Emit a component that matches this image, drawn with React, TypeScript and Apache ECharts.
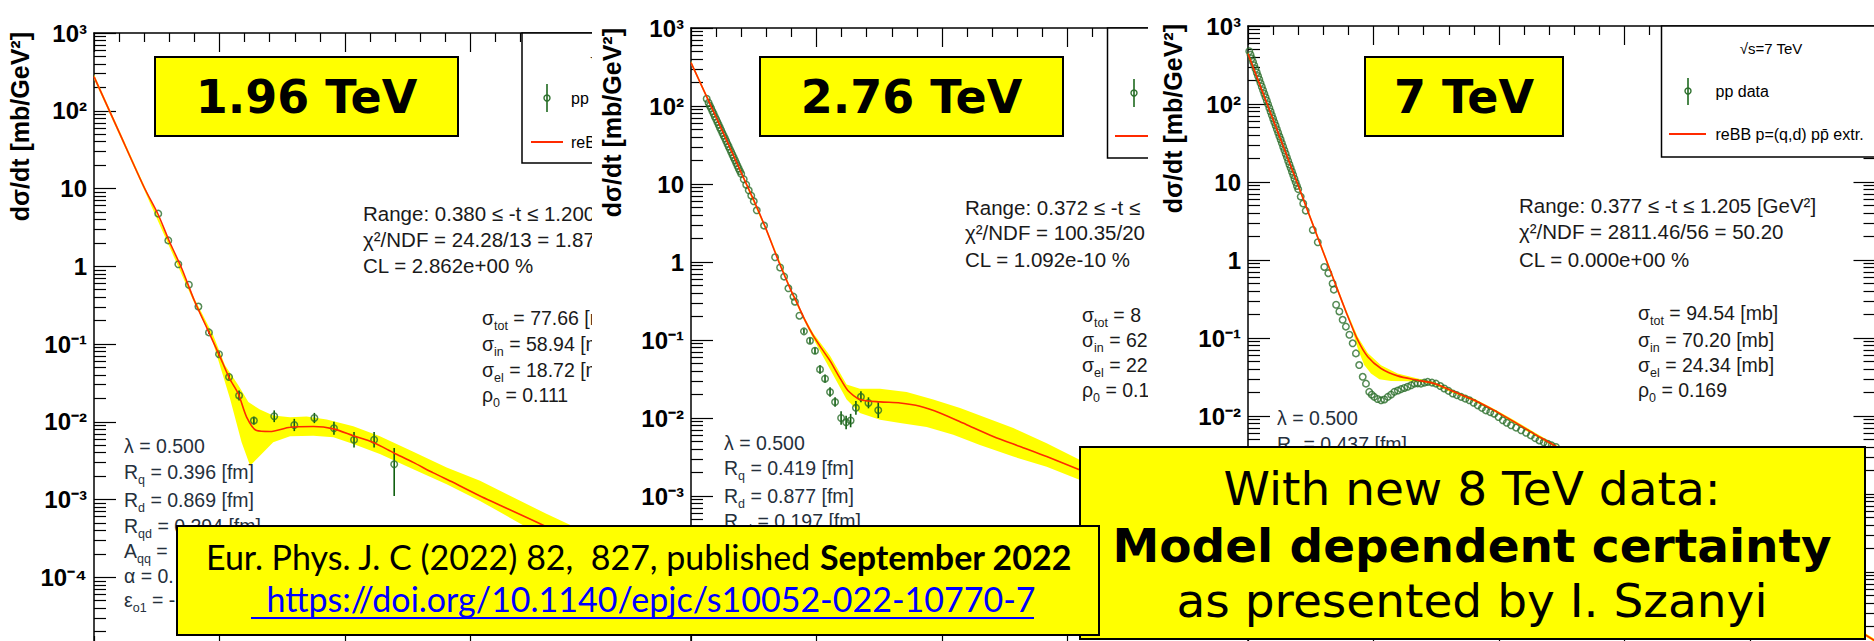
import React, { useEffect, useRef } from 'react';
import * as echarts from 'echarts';

// ---------------- fonts / colours ----------------
const FONT = "'Liberation Sans', Arial, Helvetica, sans-serif";
const BOXFONT = "'DejaVu Sans', Verdana, sans-serif";
const CAL = "Lato, 'Open Sans', sans-serif";
const TXT = '#1a1a1a';
const PAR = '#25303c';
const GREEN = '#2b6e2b';
const ERRGREEN = '#0f5f0f';
const RED = '#ff2a00';
const YEL = '#ffff00';

// ---------------- axes ----------------
const xMin = 0;
const xMax = 2.5;
const xStep = 0.5;
const yMin = 1e-5;
const yMax = 1e3;
const yTickExp = [-5, -4, -3, -2, -1, 0, 1, 2, 3];
const yTickLabels = ['10⁻⁵', '10⁻⁴', '10⁻³', '10⁻²', '10⁻¹', '1', '10', '10²', '10³'];

// ---------------- panel 1 : 1.96 TeV ----------------
const p1Points = [
  [0.256, 4.75], [0.296, 2.15], [0.336, 1.06], [0.378, 0.578], [0.416, 0.303], [0.458, 0.141],
  [0.498, 0.074], [0.538, 0.0377], [0.578, 0.0218], [0.637, 0.01035], [0.718, 0.01178],
  [0.798, 0.0091], [0.878, 0.0112], [0.956, 0.00824], [1.036, 0.00587], [1.116, 0.00587], [1.196, 0.00284],
];
const p1Errors = [
  [0.458, 0.134, 0.149], [0.498, 0.069, 0.079], [0.538, 0.035, 0.0405], [0.578, 0.0188, 0.0253],
  [0.637, 0.0092, 0.0116], [0.718, 0.00989, 0.014], [0.798, 0.00758, 0.0109], [0.878, 0.0096, 0.013],
  [0.956, 0.0068, 0.00999], [1.036, 0.00466, 0.00739], [1.116, 0.00466, 0.00739], [1.196, 0.00111, 0.00458],
];
const p1Curve = [
  [0, 275], [0.1, 53], [0.2, 10.3], [0.256, 4.6], [0.3, 2.1], [0.35, 0.93], [0.4, 0.36], [0.45, 0.16],
  [0.5, 0.071], [0.54, 0.036], [0.575, 0.0229], [0.608, 0.0115], [0.648, 0.0077], [0.701, 0.0075],
  [0.781, 0.0085], [0.874, 0.00867], [0.954, 0.0081], [1.033, 0.0066], [1.113, 0.0054], [1.193, 0.004],
  [1.272, 0.003], [1.352, 0.0022], [1.432, 0.00165], [1.538, 0.00111], [1.8, 0.00045], [2.0, 0.00021], [2.5, 0.00003],
];
const p1BandUp = [
  [0, 295], [0.2, 11.0], [0.4, 0.385], [0.475, 0.13], [0.522, 0.0533], [0.575, 0.0294], [0.615, 0.0179],
  [0.661, 0.01436], [0.714, 0.012], [0.781, 0.01143], [0.847, 0.01167], [0.927, 0.01067], [1.033, 0.00875],
  [1.139, 0.00649], [1.272, 0.00411], [1.405, 0.00258], [1.538, 0.00174], [1.8, 0.00066], [2.0, 0.00033], [2.5, 0.00005],
];
const p1BandLo = [
  [0, 255], [0.2, 9.6], [0.4, 0.335], [0.469, 0.118], [0.542, 0.0197], [0.588, 0.00543], [0.622, 0.00271],
  [0.661, 0.00365], [0.714, 0.00543], [0.781, 0.00649], [0.874, 0.00662], [0.954, 0.00631], [1.033, 0.00516],
  [1.139, 0.00384], [1.272, 0.00245], [1.405, 0.00157], [1.538, 0.00096], [1.8, 0.00032], [2.0, 0.00014], [2.5, 0.00002],
];

// ---------------- panel 2 : 2.76 TeV ----------------
const p2Points = [
  [0.0625, 124], [0.07, 110], [0.075, 101], [0.08, 93.5], [0.085, 86], [0.09, 79.6], [0.095, 73], [0.1, 67.7],
  [0.105, 62.5], [0.11, 57.6], [0.115, 53], [0.12, 49], [0.125, 45], [0.13, 41.7], [0.135, 38.5], [0.14, 35.5],
  [0.145, 32.7], [0.15, 30.2], [0.155, 27.8], [0.16, 25.7], [0.165, 23.7], [0.17, 21.9], [0.175, 20.2], [0.18, 18.6],
  [0.185, 17.1], [0.19, 15.8], [0.195, 14.6], [0.2, 13.5], [0.21, 11.5], [0.22, 9.8], [0.23, 8.3], [0.24, 7.1],
  [0.25, 6.0], [0.262, 4.6], [0.291, 2.93], [0.335, 1.15], [0.355, 0.85], [0.371, 0.65], [0.388, 0.46],
  [0.408, 0.36], [0.414, 0.31], [0.432, 0.205], [0.45, 0.129], [0.474, 0.098], [0.494, 0.0728], [0.514, 0.042],
  [0.534, 0.0319], [0.554, 0.0215], [0.574, 0.016], [0.598, 0.01], [0.618, 0.0088], [0.636, 0.0093],
  [0.657, 0.0135], [0.677, 0.0187], [0.707, 0.0156], [0.746, 0.0126],
];
const p2Errors = [
  [0.45, 0.12, 0.139], [0.474, 0.09, 0.107], [0.494, 0.066, 0.08], [0.514, 0.037, 0.0475], [0.534, 0.0283, 0.036],
  [0.554, 0.0187, 0.0247], [0.574, 0.0139, 0.0184], [0.598, 0.0082, 0.0122], [0.618, 0.0072, 0.0107],
  [0.636, 0.0076, 0.0113], [0.657, 0.011, 0.0165], [0.677, 0.0159, 0.022], [0.707, 0.0133, 0.0184], [0.746, 0.01, 0.0159],
];
const p2Curve = [
  [0, 360], [0.1, 72], [0.2, 14], [0.25, 6.2], [0.3, 2.6], [0.35, 1.0], [0.4, 0.42], [0.421, 0.306], [0.454, 0.18],
  [0.487, 0.1135], [0.52, 0.078], [0.554, 0.054], [0.59, 0.034], [0.625, 0.0225], [0.673, 0.0173], [0.753, 0.0161],
  [0.833, 0.0156], [0.912, 0.01416], [0.992, 0.0116], [1.098, 0.0082], [1.204, 0.0058], [1.311, 0.0043],
  [1.417, 0.0032], [1.55, 0.00215], [1.8, 0.001], [2.0, 0.00055], [2.5, 0.0001],
];
const p2BandUp = [
  [0, 380], [0.1, 76], [0.2, 14.8], [0.3, 2.75], [0.4, 0.445], [0.454, 0.19], [0.487, 0.122], [0.554, 0.0627],
  [0.62, 0.0269], [0.673, 0.0237], [0.753, 0.0237], [0.859, 0.0215], [0.965, 0.01726], [1.072, 0.01346],
  [1.178, 0.01], [1.284, 0.00743], [1.417, 0.00475], [1.55, 0.00289], [1.8, 0.00135], [2.0, 0.00075], [2.5, 0.00014],
];
const p2BandLo = [
  [0, 340], [0.1, 68], [0.2, 13.2], [0.3, 2.45], [0.4, 0.395], [0.454, 0.168], [0.487, 0.104], [0.554, 0.0421],
  [0.62, 0.01726], [0.673, 0.01161], [0.753, 0.0095], [0.833, 0.0086], [0.939, 0.00766], [1.045, 0.00608],
  [1.151, 0.00452], [1.284, 0.0032], [1.417, 0.00238], [1.55, 0.0016], [1.8, 0.00074], [2.0, 0.0004], [2.5, 0.00007],
];

// ---------------- panel 3 : 7 TeV ----------------
const p3Points = [
  [0.005, 475], [0.01, 428], [0.015, 385], [0.02, 347], [0.025, 313], [0.03, 282], [0.035, 254], [0.04, 228],
  [0.045, 206], [0.05, 185], [0.055, 167], [0.06, 150], [0.065, 135], [0.07, 122], [0.075, 110], [0.08, 99],
  [0.085, 89], [0.09, 80], [0.095, 72], [0.1, 65], [0.105, 58.5], [0.11, 53], [0.115, 47.5], [0.12, 43],
  [0.125, 38.5], [0.13, 35], [0.135, 31.5], [0.14, 28.3], [0.145, 25.5], [0.15, 23], [0.155, 20.7], [0.16, 18.6],
  [0.165, 16.8], [0.17, 15.1], [0.175, 13.6], [0.18, 12.3], [0.185, 11.0], [0.19, 9.9], [0.195, 8.9], [0.2, 8.1],
  [0.21, 6.5], [0.22, 5.3], [0.23, 4.3], [0.258, 2.43], [0.278, 1.69], [0.304, 0.815], [0.32, 0.678], [0.337, 0.5],
  [0.342, 0.417], [0.351, 0.267], [0.364, 0.219], [0.377, 0.171], [0.39, 0.14], [0.404, 0.11], [0.417, 0.0855],
  [0.43, 0.0635], [0.443, 0.045], [0.457, 0.0318], [0.47, 0.026], [0.483, 0.0204], [0.493, 0.0188], [0.503, 0.0176],
  [0.516, 0.0165], [0.53, 0.0159], [0.543, 0.0163], [0.557, 0.0176], [0.57, 0.0188], [0.583, 0.0204], [0.597, 0.0212],
  [0.61, 0.0221], [0.623, 0.0229], [0.636, 0.0237], [0.65, 0.0248], [0.663, 0.026], [0.676, 0.0262], [0.689, 0.026],
  [0.703, 0.0268], [0.716, 0.0274], [0.733, 0.0268], [0.749, 0.026], [0.766, 0.0242], [0.782, 0.0225], [0.799, 0.021],
  [0.816, 0.0194], [0.832, 0.0185], [0.849, 0.0176], [0.866, 0.0167], [0.882, 0.0159], [0.899, 0.0148], [0.915, 0.0137],
  [0.932, 0.0127], [0.948, 0.0118], [0.965, 0.0112], [0.981, 0.0107], [0.998, 0.0097], [1.015, 0.0088], [1.031, 0.0082],
  [1.048, 0.0076], [1.068, 0.0071], [1.088, 0.00655], [1.108, 0.0061], [1.127, 0.00564], [1.144, 0.0052],
  [1.161, 0.00486], [1.178, 0.0046], [1.194, 0.0044], [1.21, 0.0042], [1.227, 0.004],
];
const p3Errors: number[][] = [];
const p3Curve = [
  [0, 440], [0.1, 63], [0.2, 9.0], [0.3, 1.26], [0.344, 0.533], [0.39, 0.219], [0.437, 0.0944], [0.477, 0.0575],
  [0.53, 0.0407], [0.596, 0.0327], [0.676, 0.0288], [0.742, 0.0261], [0.822, 0.0204], [0.902, 0.0159],
  [0.981, 0.0118], [1.061, 0.0084], [1.141, 0.0059], [1.22, 0.0042], [1.5, 0.00117], [2.0, 0.000126], [2.5, 0.000013],
];
const p3BandUp = [
  [0, 470], [0.1, 67], [0.2, 9.6], [0.3, 1.35], [0.344, 0.57], [0.39, 0.235], [0.437, 0.104], [0.477, 0.064],
  [0.53, 0.0447], [0.596, 0.035], [0.676, 0.0302], [0.742, 0.0272], [0.822, 0.0213], [0.902, 0.0166],
  [0.981, 0.0123], [1.061, 0.0088], [1.141, 0.0062], [1.22, 0.0044], [1.5, 0.00123], [2.0, 0.000132], [2.5, 0.0000137],
];
const p3BandLo = [
  [0, 412], [0.1, 59], [0.2, 8.4], [0.3, 1.18], [0.344, 0.5], [0.39, 0.205], [0.41, 0.148], [0.437, 0.0736],
  [0.463, 0.045], [0.49, 0.0351], [0.523, 0.0297], [0.57, 0.028], [0.636, 0.0278], [0.689, 0.0272], [0.742, 0.025],
  [0.822, 0.0195], [0.902, 0.0152], [0.981, 0.0113], [1.061, 0.008], [1.141, 0.0056], [1.22, 0.004], [1.5, 0.00111],
  [2.0, 0.00012], [2.5, 0.0000124],
];

// ---------------- helpers ----------------
function yLabel(v: number) {
  const e = Math.round(Math.log10(v));
  const i = yTickExp.indexOf(e);
  return i >= 0 ? yTickLabels[i] : '';
}

function richStyles(color: string) {
  return {
    n: { fontSize: 19.5, fontFamily: FONT, fill: color, color },
    s: { fontSize: 12.5, fontFamily: FONT, fill: color, color, padding: [15, 0, 0, 0] },
  };
}

function mkHelpers(off: number) {
  const X = (x: number) => x - off;
  const TM = (x: number, ym: number, text: string, o: any = {}) => ({
    type: 'text', x: X(x), y: ym, z: 20, rotation: o.rot || 0,
    style: {
      text, fill: o.color || TXT, fontSize: o.fs || 19.5, fontFamily: o.ff || FONT,
      fontWeight: o.fw || 'normal', align: o.align || 'left', verticalAlign: 'middle',
      textAlign: o.align || 'left', textVerticalAlign: 'middle', rich: o.rich,
    },
  });
  const T = (x: number, base: number, text: string, o: any = {}) => TM(x, base - (o.fs || 19.5) * 0.35, text, o);
  const S = (x: number, base: number, parts: string[], color: string = TXT) => {
    if (parts.length === 1) return T(x, base, parts[0], { color });
    const txt = parts.map((p, i) => `{${i % 2 === 1 ? 's' : 'n'}|${p}}`).join('');
    return T(x, base, txt, { color, rich: richStyles(color) });
  };
  const R = (x: number, y: number, w: number, h: number, fill: string, lw: number) => ({
    type: 'rect', z: 19, shape: { x: X(x), y, width: w, height: h }, style: { fill, stroke: '#000', lineWidth: lw },
  });
  const L = (x1: number, y1: number, x2: number, y2: number, stroke: string, lw: number) => ({
    type: 'line', z: 20, shape: { x1: X(x1), y1, x2: X(x2), y2 }, style: { stroke, lineWidth: lw },
  });
  const C = (cx: number, cy: number, r: number) => ({
    type: 'circle', z: 21, shape: { cx: X(cx), cy, r }, style: { fill: 'none', stroke: GREEN, lineWidth: 1.4 },
  });
  const YT = (x: number, yTop: number) =>
    TM(x, yTop, 'dσ/dt [mb/GeV²]', { rot: Math.PI / 2, align: 'right', fs: 25, fw: 'bold', color: '#000' });
  return { TM, T, S, R, L, C, YT };
}

function panelOption(c: any) {
  const tickLine = { color: '#000', width: 1.2 };
  const xa = (pos: string) => ({
    type: 'value', position: pos, min: xMin, max: xMax, interval: xStep,
    axisLine: { show: true, onZero: false, lineStyle: { color: '#000', width: 1.5 } },
    axisTick: { show: true, inside: true, length: 19, lineStyle: tickLine },
    minorTick: { show: true, splitNumber: 5, length: 9, lineStyle: tickLine },
    axisLabel: { show: false }, splitLine: { show: false }, minorSplitLine: { show: false },
  });
  const ya = (pos: string, labels: boolean) => ({
    type: 'log', logBase: 10, position: pos, min: yMin, max: yMax, splitNumber: 8,
    axisLine: { show: true, onZero: false, lineStyle: { color: '#000', width: 1.5 } },
    axisTick: { show: true, inside: true, length: 22, lineStyle: tickLine },
    minorTick: { show: true, splitNumber: 9, length: 12, lineStyle: tickLine },
    axisLabel: labels
      ? {
          show: true, formatter: yLabel, fontSize: 24, fontWeight: 'bold', fontFamily: FONT, color: '#000',
          margin: 7, showMinLabel: false,
        }
      : { show: false },
    splitLine: { show: false }, minorSplitLine: { show: false },
  });
  const up = c.up;
  const lo = c.lo;
  return {
    animation: false,
    backgroundColor: '#fff',
    grid: { left: c.gridLeft, top: c.gridTop, width: 627.5, height: c.gridH, show: false },
    xAxis: [xa('top'), xa('bottom')],
    yAxis: [ya('left', true), ya('right', false)],
    series: [
      {
        type: 'custom', xAxisIndex: 0, yAxisIndex: 0, silent: true, z: 1,
        data: [[1, 1]], encode: { x: 0, y: 1 },
        renderItem: (params: any, api: any) => {
          const pts: number[][] = [];
          for (const p of up) pts.push(api.coord(p));
          for (let i = lo.length - 1; i >= 0; i--) pts.push(api.coord(lo[i]));
          return { type: 'polygon', shape: { points: pts }, style: { fill: YEL, stroke: null } };
        },
      },
      {
        type: 'custom', xAxisIndex: 0, yAxisIndex: 0, silent: true, z: 2,
        data: c.errs, encode: { x: 0, y: 1 },
        renderItem: (params: any, api: any) => {
          const a = api.coord([api.value(0), api.value(1)]);
          const b = api.coord([api.value(0), api.value(2)]);
          return { type: 'line', shape: { x1: a[0], y1: a[1], x2: b[0], y2: b[1] }, style: { stroke: c.errColor, lineWidth: 1.6 } };
        },
      },
      {
        type: 'scatter', xAxisIndex: 0, yAxisIndex: 0, silent: true, z: 3,
        data: c.pts, symbol: 'circle', symbolSize: 6.5,
        itemStyle: { color: 'rgba(0,0,0,0)', borderColor: GREEN, borderWidth: 1.5 },
      },
      {
        type: 'line', xAxisIndex: 0, yAxisIndex: 0, silent: true, z: 4,
        data: c.curve, showSymbol: false, symbol: 'none', smooth: 0.25,
        lineStyle: { color: RED, width: 1.6 },
      },
    ],
    graphic: { elements: c.graphics },
  };
}

function panel1Graphics() {
  const { TM, T, S, R, L, C, YT } = mkHelpers(0);
  return [
    YT(20, 32),
    R(155, 57, 303, 79, YEL, 2),
    TM(306.5, 97, '1.96 TeV', { fs: 46, fw: 'bold', ff: BOXFONT, align: 'center', color: '#000' }),
    R(522, 33, 199.5, 130, '#fff', 1.5),
    TM(632, 58, '√s=1.96 TeV', { fs: 15, align: 'center', color: '#000' }),
    L(547, 84, 547, 112, ERRGREEN, 1.5), C(547, 98, 3),
    TM(571, 98, 'pp data', { fs: 16, color: '#000' }),
    L(531, 142, 563, 142, RED, 2),
    TM(571, 142, 'reBB p=(q,d) pp̄ extr.', { fs: 16, color: '#000' }),
    T(363, 221, 'Range: 0.380 ≤ -t ≤ 1.200 [GeV²]', { fs: 20.5 }),
    T(363, 247, 'χ²/NDF = 24.28/13 = 1.87', { fs: 20.5 }),
    T(363, 273, 'CL = 2.862e+00 %', { fs: 20.5 }),
    S(482, 325, ['σ', 'tot', ' = 77.66 [mb]']),
    S(482, 351, ['σ', 'in', ' = 58.94 [mb]']),
    S(482, 377, ['σ', 'el', ' = 18.72 [mb]']),
    S(482, 402, ['ρ', '0', ' = 0.111']),
    S(124, 453, ['λ = 0.500'], PAR),
    S(124, 479, ['R', 'q', ' = 0.396 [fm]'], PAR),
    S(124, 507, ['R', 'd', ' = 0.869 [fm]'], PAR),
    S(124, 533, ['R', 'qd', ' = 0.294 [fm]'], PAR),
    S(124, 558, ['A', 'qq', ' ='], PAR),
    S(124, 583, ['α = 0.'], PAR),
    S(124, 607, ['ε', 'o1', ' = -'], PAR),
  ];
}

function panel2Graphics() {
  const { TM, T, S, R, L, C, YT } = mkHelpers(592);
  return [
    YT(612, 28),
    R(760, 57, 303, 79, YEL, 2),
    TM(911.5, 97, '2.76 TeV', { fs: 46, fw: 'bold', ff: BOXFONT, align: 'center', color: '#000' }),
    R(1107.5, 28, 211, 130, '#fff', 1.5),
    L(1134, 79, 1134, 107, ERRGREEN, 1.5), C(1134, 93, 3),
    L(1115, 136, 1149, 136, RED, 2),
    T(965, 215, 'Range: 0.372 ≤ -t ≤', { fs: 20.5 }),
    T(965, 240, 'χ²/NDF = 100.35/20 = 5.02', { fs: 20.5 }),
    T(965, 267, 'CL = 1.092e-10 %', { fs: 20.5 }),
    S(1082, 322, ['σ', 'tot', ' = 8']),
    S(1082, 347, ['σ', 'in', ' = 62']),
    S(1082, 372, ['σ', 'el', ' = 22']),
    S(1082, 397, ['ρ', '0', ' = 0.1']),
    S(724, 450, ['λ = 0.500'], PAR),
    S(724, 475, ['R', 'q', ' = 0.419 [fm]'], PAR),
    S(724, 503, ['R', 'd', ' = 0.877 [fm]'], PAR),
    S(724, 528, ['R', 'qd', ' = 0.197 [fm]'], PAR),
  ];
}

function panel3Graphics() {
  const { TM, T, S, R, L, C, YT } = mkHelpers(1148);
  return [
    YT(1173, 24),
    R(1365, 57, 198, 79, YEL, 2),
    TM(1464, 97, '7 TeV', { fs: 46, fw: 'bold', ff: BOXFONT, align: 'center', color: '#000' }),
    R(1661.5, 26, 214, 131, '#fff', 1.5),
    TM(1771, 48, '√s=7 TeV', { fs: 15, align: 'center', color: '#000' }),
    L(1688, 78, 1688, 105, ERRGREEN, 1.5), C(1688, 91, 3),
    TM(1715.5, 91, 'pp data', { fs: 16, color: '#000' }),
    L(1669, 134, 1706, 134, RED, 2),
    TM(1715.5, 134, 'reBB p=(q,d) pp̄ extr.', { fs: 16, color: '#000' }),
    T(1519, 213, 'Range: 0.377 ≤ -t ≤ 1.205 [GeV²]', { fs: 20.5 }),
    T(1519, 239, 'χ²/NDF = 2811.46/56 = 50.20', { fs: 20.5 }),
    T(1519, 267, 'CL = 0.000e+00 %', { fs: 20.5 }),
    S(1638, 320, ['σ', 'tot', ' = 94.54 [mb]']),
    S(1638, 347, ['σ', 'in', ' = 70.20 [mb]']),
    S(1638, 372, ['σ', 'el', ' = 24.34 [mb]']),
    S(1638, 397, ['ρ', '0', ' = 0.169']),
    S(1277, 425, ['λ = 0.500'], PAR),
    S(1277, 451, ['R', 'q', ' = 0.437 [fm]'], PAR),
  ];
}

function overlayOption() {
  const { T, R, L } = mkHelpers(0);
  const big = R(1080, 447, 785, 192, YEL, 2);
  const eur = R(177, 526, 922, 109, YEL, 2);
  const z = (el: any, v: number) => ({ ...el, z: v });
  return {
    animation: false,
    graphic: {
      elements: [
        z(big, 1),
        z(T(1472, 505, 'With new 8 TeV data:', { fs: 47, ff: BOXFONT, align: 'center', color: '#000' }), 2),
        z(T(1472, 562, 'Model dependent certainty', { fs: 47, fw: 'bold', ff: BOXFONT, align: 'center', color: '#000' }), 2),
        z(T(1472, 617, 'as presented by I. Szanyi', { fs: 47, ff: BOXFONT, align: 'center', color: '#000' }), 2),
        z(eur, 3),
        z(T(206, 568, '{r|Eur. Phys. J. C (2022) 82,  827, published }{b|September 2022}', {
          fs: 34, ff: CAL, color: '#000',
          rich: {
            r: { fontSize: 34, fontFamily: CAL, fill: '#000', color: '#000' },
            b: { fontSize: 34, fontFamily: CAL, fontWeight: 'bold', fill: '#000', color: '#000' },
          },
        }), 4),
        z(T(651, 610, 'https://doi.org/10.1140/epjc/s10052-022-10770-7', { fs: 34, ff: CAL, align: 'center', color: '#0000ff' }), 4),
        z(L(251, 618, 1034, 618, '#0000ff', 2), 4),
      ],
    },
  };
}

export default function App() {
  const r1 = useRef<HTMLDivElement>(null);
  const r2 = useRef<HTMLDivElement>(null);
  const r3 = useRef<HTMLDivElement>(null);
  const r4 = useRef<HTMLDivElement>(null);

  useEffect(() => {
    const charts: any[] = [];
    const mk = (el: any, opt: any) => {
      const c = echarts.init(el, null, { renderer: 'svg' });
      c.setOption(opt);
      charts.push(c);
    };
    mk(r1.current, panelOption({
      gridLeft: 94, gridTop: 33, gridH: 622, curve: p1Curve, up: p1BandUp, lo: p1BandLo,
      pts: p1Points, errs: p1Errors, errColor: ERRGREEN, graphics: panel1Graphics(),
    }));
    mk(r2.current, panelOption({
      gridLeft: 99, gridTop: 28, gridH: 624, curve: p2Curve, up: p2BandUp, lo: p2BandLo,
      pts: p2Points, errs: p2Errors, errColor: ERRGREEN, graphics: panel2Graphics(),
    }));
    mk(r3.current, panelOption({
      gridLeft: 100, gridTop: 26, gridH: 624, curve: p3Curve, up: p3BandUp, lo: p3BandLo,
      pts: p3Points, errs: p3Errors, errColor: ERRGREEN, graphics: panel3Graphics(),
    }));
    mk(r4.current, overlayOption());
    return () => charts.forEach((c) => c.dispose());
  }, []);

  const base: any = { position: 'absolute', top: 0, width: 780, height: 720, overflow: 'hidden' };
  return (
    <div style={{ position: 'fixed', left: 0, top: 0, width: 1874, height: 641, overflow: 'hidden', background: '#fff' }}>
      <div ref={r1} style={{ ...base, left: 0, background: '#fff' }} />
      <div ref={r2} style={{ ...base, left: 592, background: '#fff' }} />
      <div ref={r3} style={{ ...base, left: 1148, background: '#fff' }} />
      <div ref={r4} style={{ ...base, left: 0, width: 1874, height: 641 }} />
    </div>
  );
}
